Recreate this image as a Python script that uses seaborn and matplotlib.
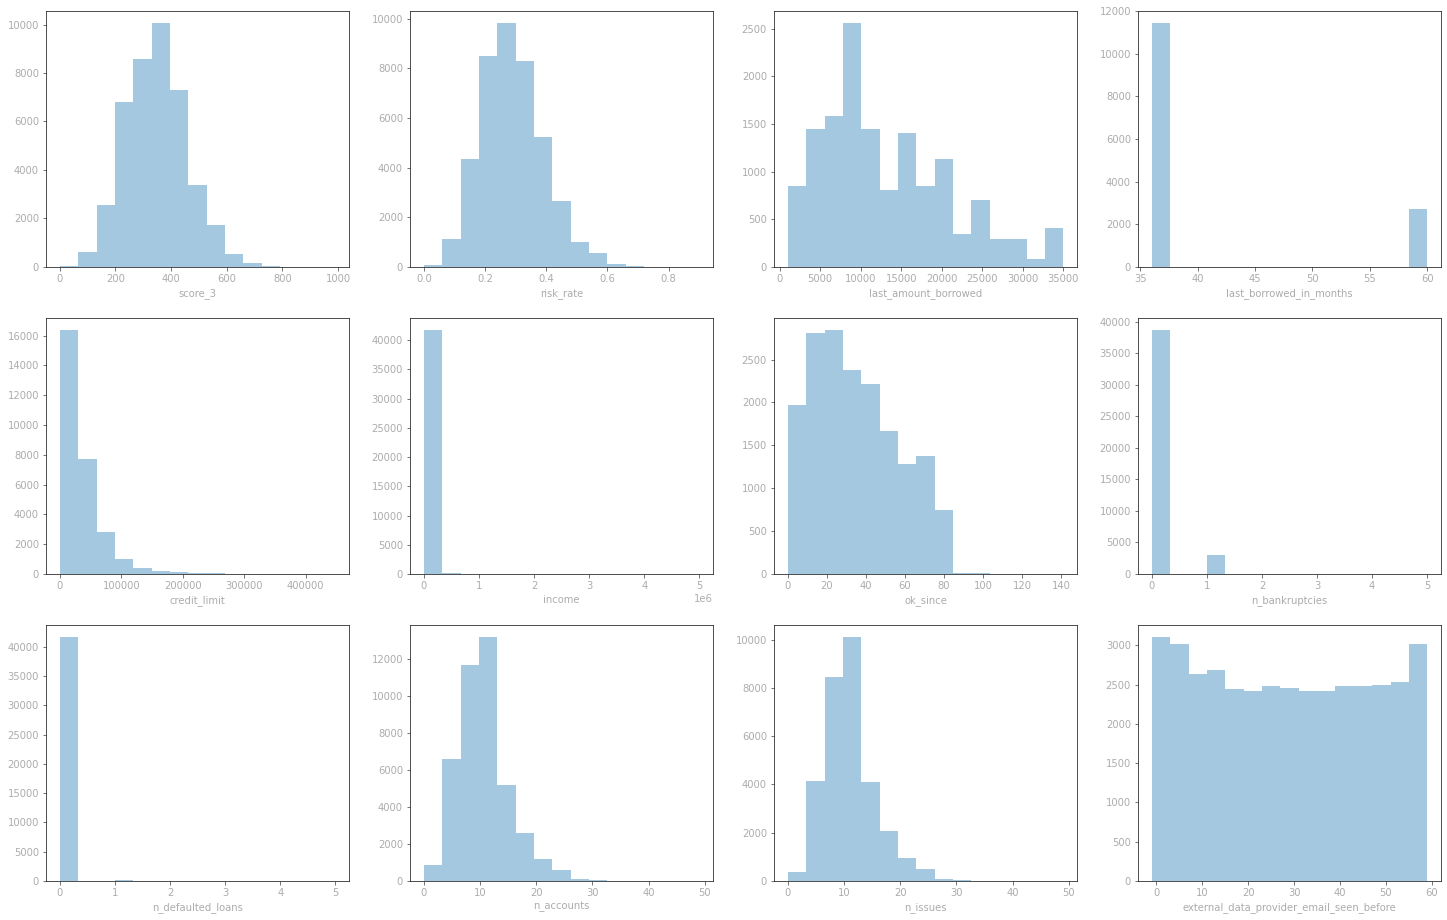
import matplotlib
matplotlib.use("Agg")
import matplotlib.pyplot as plt
import numpy as np
import seaborn as sns

# Bin counts (15 equal-width bins per column)
score_3 = [40, 604, 2555, 6800, 8571, 10055, 7294, 3379, 1731, 536, 165, 41, 8, 2, 1]
risk_rate = [80, 1126, 4343, 8485, 9812, 8284, 5228, 2654, 1005, 563, 120, 40, 5, 2, 1]
last_amount_borrowed = [848, 1445, 1582, 2556, 1445, 807, 1404, 848, 1131, 346, 702, 293, 293, 84, 408]
last_borrowed_in_months = [11440, 0, 0, 0, 0, 0, 0, 0, 0, 0, 0, 0, 0, 0, 2723]
credit_limit = [16357, 7709, 2816, 1006, 402, 201, 134, 67, 67, 20, 10, 5, 3, 1, 1]
income = [41709, 200, 20, 5, 2, 1, 1, 0, 0, 0, 0, 0, 0, 0, 1]
ok_since = [1968, 2807, 2842, 2376, 2213, 1665, 1281, 1374, 745, 12, 12, 2, 1, 0, 1]
n_bankruptcies = [38628, 0, 0, 3008, 0, 0, 50, 0, 0, 10, 0, 0, 2, 0, 1]
n_defaulted_loans = [41590, 0, 0, 170, 0, 0, 5, 0, 0, 1, 0, 0, 0, 0, 1]
n_accounts = [862, 6575, 11640, 13149, 5173, 2587, 1186, 593, 108, 54, 15, 5, 2, 1, 1]
n_issues = [372, 4138, 8441, 10097, 4097, 2069, 952, 497, 83, 41, 10, 4, 2, 1, 1]
external_data_provider_email_seen_before = [3102, 3013, 2631, 2682, 2441, 2415, 2479, 2453,
                                            2415, 2415, 2479, 2479, 2492, 2530, 3013]

# (min, max) of each column, which sets the bin edges
ranges = {
    "score_3": (0, 990),
    "risk_rate": (0, 0.9),
    "last_amount_borrowed": (1000, 35000),
    "last_borrowed_in_months": (36, 60),
    "credit_limit": (0, 448000),
    "income": (0, 5000000),
    "ok_since": (0, 141),
    "n_bankruptcies": (0, 5),
    "n_defaulted_loans": (0, 5),
    "n_accounts": (0, 49),
    "n_issues": (0, 49),
    "external_data_provider_email_seen_before": (-1, 59),
}

counts = {
    "score_3": score_3,
    "risk_rate": risk_rate,
    "last_amount_borrowed": last_amount_borrowed,
    "last_borrowed_in_months": last_borrowed_in_months,
    "credit_limit": credit_limit,
    "income": income,
    "ok_since": ok_since,
    "n_bankruptcies": n_bankruptcies,
    "n_defaulted_loans": n_defaulted_loans,
    "n_accounts": n_accounts,
    "n_issues": n_issues,
    "external_data_provider_email_seen_before": external_data_provider_email_seen_before,
}

sns.set_style("ticks")
plt.rcParams["font.family"] = ["DejaVu Sans"]

GREY = "#acacac"

fig, axes = plt.subplots(3, 4, figsize=(1447 / 72, 920 / 72), dpi=72)
fig.subplots_adjust(left=0.0318, right=0.9959, top=0.988, bottom=0.0424,
                    wspace=0.201, hspace=0.2)

for ax, (name, vals) in zip(axes.flat, counts.items()):
    lo, hi = ranges[name]
    edges = np.linspace(lo, hi, len(vals) + 1)
    centers = (edges[:-1] + edges[1:]) / 2
    sns.histplot(x=centers, weights=np.asarray(vals, dtype=float),
                 bins=len(vals), binrange=(lo, hi), ax=ax,
                 color="#1f77b4", alpha=0.4, linewidth=0)
    ax.set_xlabel(name, color=GREY, fontsize=10)
    ax.set_ylabel("")
    ax.tick_params(labelcolor=GREY, color="#555555", labelsize=10)
    ax.xaxis.get_offset_text().set_color(GREY)
    for s in ax.spines.values():
        s.set_color("#262626")

fig.savefig("out.png", dpi=72)
plt.close(fig)
